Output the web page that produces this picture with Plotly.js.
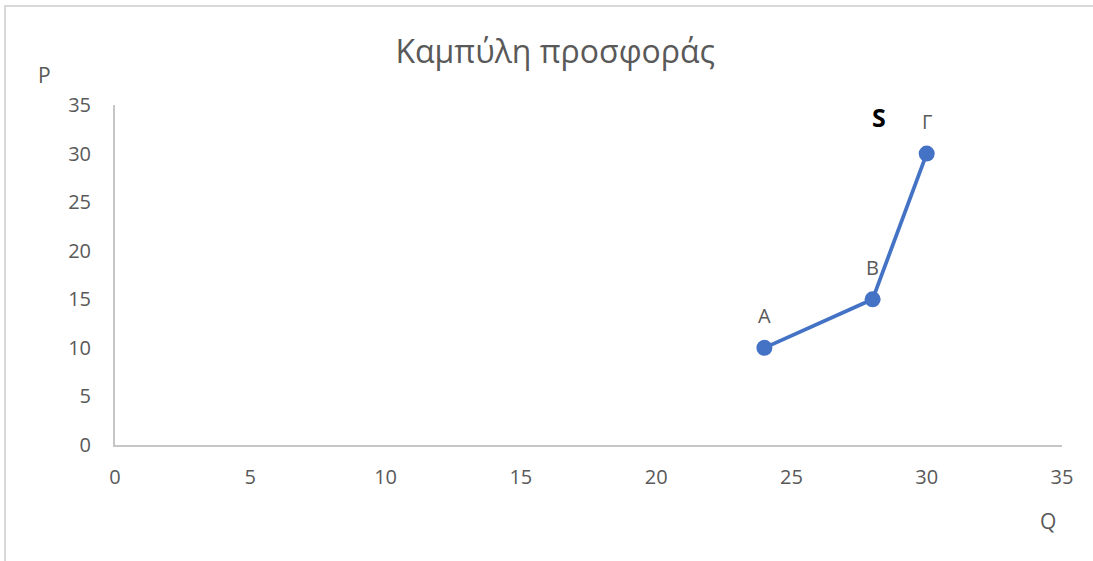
<!DOCTYPE html>
<html>
<head>
<meta charset="utf-8">
<script src="https://cdn.plot.ly/plotly-3.0.1.min.js"></script>
<style>
  html, body { margin: 0; padding: 0; background: #fff; }
  #wrap { position: relative; width: 1093px; height: 561px; overflow: hidden; }
  #chart { position: absolute; left: 0; top: 0; width: 1093px; height: 561px; }
  #frame { position: absolute; left: 4px; top: 5px; width: 1200px; height: 700px;
           border-left: 2px solid #d9d9d9; border-top: 2px solid #d9d9d9; pointer-events: none; }
</style>
</head>
<body>
<div id="wrap">
  <div id="chart"></div>
  <div id="frame"></div>
</div>
<script>
const quantity = [24, 28, 30];
const price = [10, 15, 30];
const pointLabels = ["A", "B", "Γ"];
const xTicks = [0, 5, 10, 15, 20, 25, 30, 35];
const yTicks = [0, 5, 10, 15, 20, 25, 30, 35];
const curveName = "S";
const curveLabelPos = { x: 28.25, y: 33.8 };

const FONT = "Open Sans, Noto Sans, sans-serif";
const GREY = "#595959";

const trace = {
  x: quantity,
  y: price,
  type: "scatter",
  mode: "lines+markers",
  line: { color: "#4472C4", width: 3.75 },
  marker: { color: "#4472C4", size: 16 },
  cliponaxis: false,
  hoverinfo: "x+y"
};

const pointAnnotations = quantity.map((q, i) => ({
  x: q, y: price[i], xref: "x", yref: "y",
  text: pointLabels[i], showarrow: false,
  font: { family: FONT, size: 20, color: GREY },
  xanchor: "center", yanchor: "middle", yshift: 32
}));

const layout = {
  width: 1093,
  height: 561,
  margin: { l: 115, r: 31, t: 105, b: 116 },
  paper_bgcolor: "#ffffff",
  plot_bgcolor: "#ffffff",
  showlegend: false,
  title: {
    text: "Καμπύλη προσφοράς",
    font: { family: FONT, size: 32, color: GREY },
    x: 0.508, xanchor: "center",
    y: 0.907, yanchor: "middle"
  },
  xaxis: {
    range: [0, 35],
    tickvals: xTicks,
    ticktext: xTicks.map(String),
    showgrid: false,
    zeroline: false,
    showline: true,
    linecolor: "#c6c6c6",
    linewidth: 2,
    ticks: "outside",
    ticklen: 13,
    tickcolor: "rgba(0,0,0,0)",
    tickfont: { family: FONT, size: 20, color: GREY },
    fixedrange: true
  },
  yaxis: {
    range: [0, 35],
    tickvals: yTicks,
    ticktext: yTicks.map(String),
    showgrid: false,
    zeroline: false,
    showline: true,
    linecolor: "#c6c6c6",
    linewidth: 2,
    ticks: "outside",
    ticklen: 18,
    tickcolor: "rgba(0,0,0,0)",
    tickfont: { family: FONT, size: 20, color: GREY },
    fixedrange: true
  },
  annotations: pointAnnotations.concat([
    {
      x: curveLabelPos.x, y: curveLabelPos.y, xref: "x", yref: "y",
      text: "<b>" + curveName + "</b>", showarrow: false,
      font: { family: FONT, size: 25, color: "#000000" },
      xanchor: "center", yanchor: "middle"
    },
    {
      x: (44 - 115) / 947, y: (445 - 75) / 340, xref: "paper", yref: "paper",
      text: "P", showarrow: false,
      font: { family: FONT, size: 21, color: GREY },
      xanchor: "center", yanchor: "middle"
    },
    {
      x: (1048 - 115) / 947, y: (445 - 521) / 340, xref: "paper", yref: "paper",
      text: "Q", showarrow: false,
      font: { family: FONT, size: 21, color: GREY },
      xanchor: "center", yanchor: "middle"
    }
  ])
};

Plotly.newPlot("chart", [trace], layout, { displayModeBar: false, staticPlot: true });
</script>
</body>
</html>
